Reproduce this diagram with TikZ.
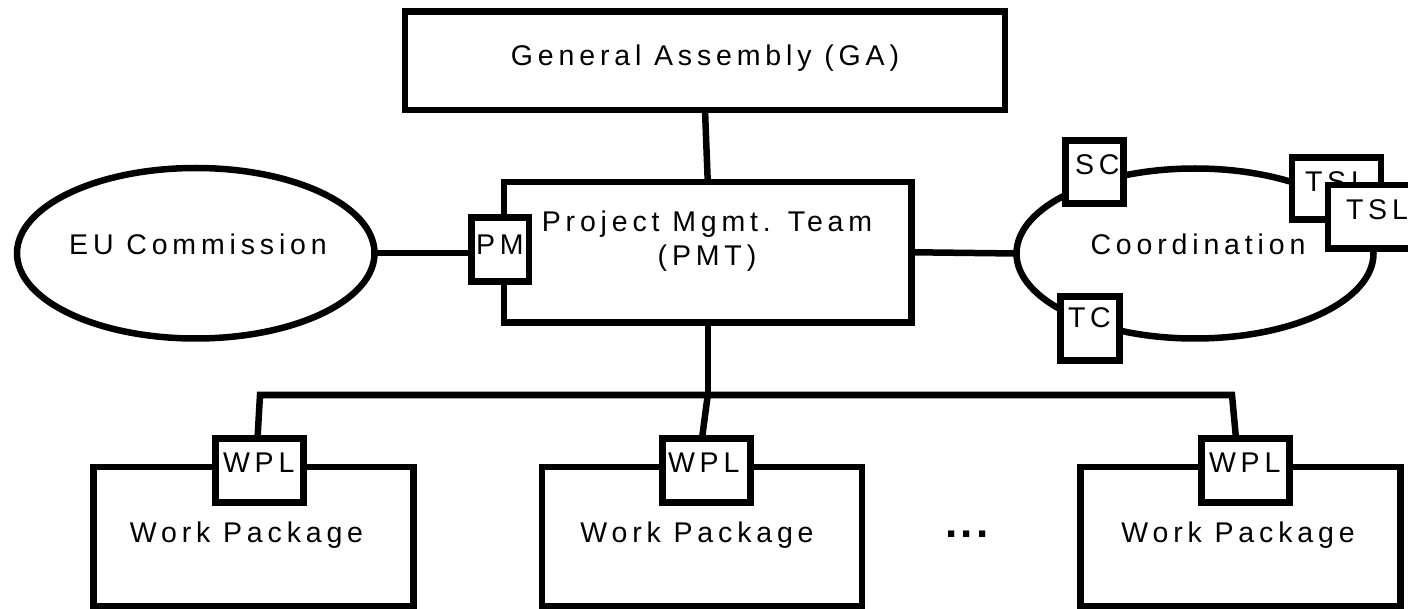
\documentclass[tikz,border=0pt]{standalone}
\usepackage{fontspec}
\setmainfont{Liberation Sans}[LetterSpace=17]
\newfontfamily\dotsfont{Liberation Sans Bold}[LetterSpace=8]
\usetikzlibrary{shapes.geometric}
\begin{document}
\begin{tikzpicture}[x=1pt,y=-1pt,
  box/.style={draw,line width=6.5pt,fill=white,inner sep=0pt,outer sep=0pt},
  oval/.style={ellipse,draw,line width=6.5pt,fill=white,inner sep=0pt,outer sep=0pt},
  wire/.style={line width=6.5pt},
  lbl/.style={inner sep=0pt,outer sep=0pt,font=\fontsize{28.5}{33.3}\selectfont,anchor=base},
  tag/.style={lbl,anchor=base west}]
\useasboundingbox (0,0) rectangle (1408,609);
\fill[white] (0,0) rectangle (1408,609);
% main shapes
\node[box,minimum width=600pt,minimum height=98.5pt] (ga) at (705,60.75) {};
\node[box,minimum width=407.5pt,minimum height=140.5pt] (pmt) at (707.75,252.25) {};
\node[oval,minimum width=357.5pt,minimum height=170.5pt] (eu) at (195.75,253.25) {};
\node[oval,minimum width=357pt,minimum height=170pt] (co) at (1195,253.5) {};
\node[box,minimum width=320pt,minimum height=139pt] (wp1) at (253.5,536.5) {};
\node[box,minimum width=320pt,minimum height=139pt] (wp2) at (702,536.5) {};
\node[box,minimum width=320pt,minimum height=139pt] (wp3) at (1240.5,536.5) {};
% connectors
\coordinate (b1) at (260,395);
\coordinate (b2) at (707.75,395);
\coordinate (b3) at (1232,395);
\draw[wire] (ga.south) -- (pmt.north);
\draw[wire] (pmt.east) -- (co.west);
\draw[wire] (pmt.south) -- (b2);
% small boxes
\node[box,minimum width=57.5pt,minimum height=64pt] (pm) at (500.25,249.5) {};
\draw[wire] (eu.east) -- (eu.east -| pm.west);
\node[box,minimum width=58pt,minimum height=63pt] (sc) at (1094.5,172) {};
\node[box,minimum width=59pt,minimum height=64pt] (tc) at (1090,328.5) {};
\node[box,minimum width=89pt,minimum height=62pt] (tslA) at (1336.5,188.5) {};
\node[tag] (tslAt) at (1305,192) {TSL};
\node[box,minimum width=89pt,minimum height=63.5pt] (tslB) at (1372.5,216.75) {};
\node[tag] (tslBt) at (1346,220) {TSL};
\node[box,minimum width=88pt,minimum height=64pt] (wpl1) at (259.5,470.5) {};
\node[box,minimum width=88pt,minimum height=64pt] (wpl2) at (706.5,470.5) {};
\node[box,minimum width=88pt,minimum height=64pt] (wpl3) at (1245.5,470.5) {};
\draw[wire] ([xshift=-2pt]wpl1.north) -- (b1) -- (b3) -- ([xshift=-9.5pt]wpl3.north);
\draw[wire] (b2) -- ([xshift=-4.5pt]wpl2.north);
% texts
\node[lbl] (gat) at (705,66) {General Assembly (GA)};
\node[lbl] (pmtt) at (707,232) {\begin{tabular}[t]{@{}c@{}}Project Mgmt. Team\\(PMT)\end{tabular}};
\node[lbl] (eut) at (198,255) {EU Commission};
\node[lbl] (cot) at (1198,255) {Coordination};
\node[tag] (pmx) at (476,255) {PM};
\node[tag] (scx) at (1075,175) {SC};
\node[tag] (tcx) at (1068,328) {TC};
\node[tag] (wpl1t) at (223,472) {WPL};
\node[tag] (wpl2t) at (668,472) {WPL};
\node[tag] (wpl3t) at (1209,472) {WPL};
\node[lbl] (wp1t) at (246.5,542) {Work Package};
\node[lbl] (wp2t) at (697,542) {Work Package};
\node[lbl] (wp3t) at (1238,542) {Work Package};
\node[lbl,font=\dotsfont\fontsize{44}{44}\selectfont] (dots) at (967,537) {...};
\end{tikzpicture}
\end{document}
